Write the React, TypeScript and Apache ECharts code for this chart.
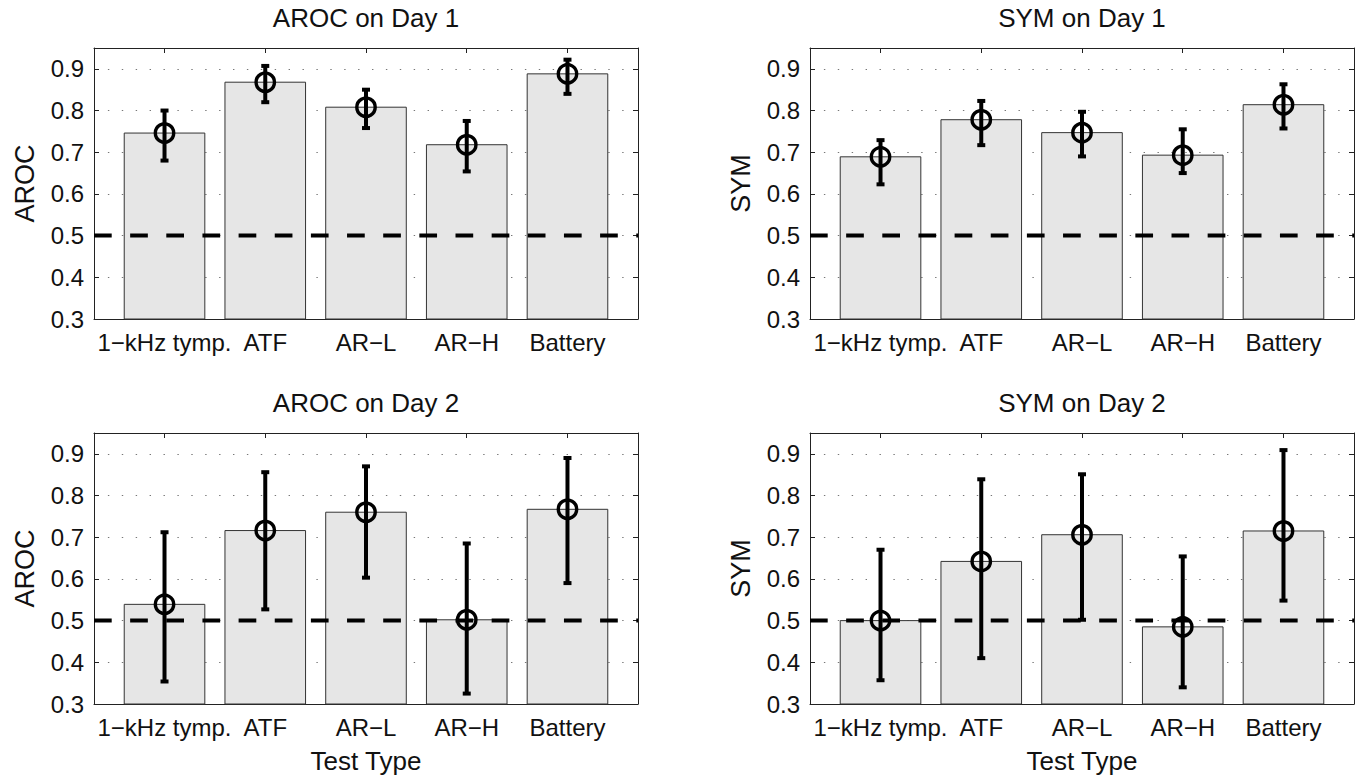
import React, { useEffect, useRef } from 'react';
import * as echarts from 'echarts';

// ---------- data ----------
const categories = ['1−kHz tymp.', 'ATF', 'AR−L', 'AR−H', 'Battery'];
const categoryPositions = [1, 2, 3, 4, 5];
const yTicks = [0.3, 0.4, 0.5, 0.6, 0.7, 0.8, 0.9];
const chanceLevel = 0.5;

const arocDay1Mean = [0.746, 0.868, 0.808, 0.718, 0.888];
const arocDay1Lo = [0.68, 0.82, 0.758, 0.654, 0.84];
const arocDay1Hi = [0.8, 0.907, 0.85, 0.775, 0.922];

const symDay1Mean = [0.689, 0.778, 0.747, 0.693, 0.814];
const symDay1Lo = [0.623, 0.717, 0.69, 0.65, 0.757];
const symDay1Hi = [0.729, 0.823, 0.797, 0.755, 0.863];

const arocDay2Mean = [0.539, 0.716, 0.76, 0.502, 0.767];
const arocDay2Lo = [0.354, 0.527, 0.603, 0.325, 0.59];
const arocDay2Hi = [0.712, 0.856, 0.87, 0.685, 0.89];

const symDay2Mean = [0.5, 0.642, 0.706, 0.485, 0.715];
const symDay2Lo = [0.357, 0.41, 0.502, 0.34, 0.548];
const symDay2Hi = [0.67, 0.839, 0.851, 0.654, 0.909];

const panelTitles = ['AROC on Day 1', 'SYM on Day 1', 'AROC on Day 2', 'SYM on Day 2'];
const panelYNames = ['AROC', 'SYM', 'AROC', 'SYM'];
const panelXNames = ['', '', 'Test Type', 'Test Type'];
const panelMeans = [arocDay1Mean, symDay1Mean, arocDay2Mean, symDay2Mean];
const panelLos = [arocDay1Lo, symDay1Lo, arocDay2Lo, symDay2Lo];
const panelHis = [arocDay1Hi, symDay1Hi, arocDay2Hi, symDay2Hi];

// axis limits
const X_MIN = 0.3;
const X_MAX = 5.7;
const Y_MIN = 0.3;
const Y_MAX = 0.95;
const Y_STEP = 0.1;
const BAR_W = 0.8;

// ---------- layout / style ----------
const gridLefts = [94, 810, 94, 810];
const gridTops = [48, 48, 433, 433];
const GRID_W = 544;
const GRID_H = 271;
const FONT = "'Liberation Sans', Arial, Helvetica, sans-serif";
const TEXT = '#111';
const AXIS = '#222';

function buildOption() {
  const grid: any[] = [];
  const xAxis: any[] = [];
  const yAxis: any[] = [];
  const series: any[] = [];

  panelTitles.forEach((title, i) => {
    grid.push({ left: gridLefts[i], top: gridTops[i], width: GRID_W, height: GRID_H });

    const lineStyle = { color: AXIS, width: 1 };
    xAxis.push({
      gridIndex: i,
      type: 'value',
      min: X_MIN,
      max: X_MAX,
      position: 'bottom',
      axisLine: { show: true, onZero: false, lineStyle },
      axisTick: { show: true, inside: true, length: 5, customValues: categoryPositions, lineStyle },
      axisLabel: {
        show: true,
        customValues: categoryPositions,
        formatter: (v: number) => categories[Math.round(v) - 1] ?? '',
        fontSize: 24,
        fontFamily: FONT,
        color: TEXT,
        margin: 11,
      },
      splitLine: { show: false },
      name: panelXNames[i],
      nameLocation: 'middle',
      nameGap: 44,
      nameTextStyle: { fontSize: 26, fontFamily: FONT, color: TEXT },
    });
    xAxis.push({
      gridIndex: i,
      type: 'value',
      min: X_MIN,
      max: X_MAX,
      position: 'top',
      axisLine: { show: true, onZero: false, lineStyle },
      axisTick: { show: true, inside: true, length: 5, customValues: categoryPositions, lineStyle },
      axisLabel: { show: false },
      splitLine: { show: false },
      name: title,
      nameLocation: 'middle',
      nameGap: 17,
      nameTextStyle: { fontSize: 26, fontFamily: FONT, color: TEXT },
    });

    yAxis.push({
      gridIndex: i,
      type: 'value',
      min: Y_MIN,
      max: Y_MAX,
      interval: Y_STEP,
      position: 'left',
      axisLine: { show: true, onZero: false, lineStyle },
      axisTick: { show: true, inside: true, length: 5, customValues: yTicks, lineStyle },
      axisLabel: {
        show: true,
        customValues: yTicks,
        formatter: (v: number) => v.toFixed(1),
        fontSize: 24,
        fontFamily: FONT,
        color: TEXT,
        margin: 10,
      },
      splitLine: { show: true, lineStyle: { color: '#777', width: 1.2, type: [1.4, 12.5] } },
      name: panelYNames[i],
      nameLocation: 'middle',
      nameGap: 56,
      nameTextStyle: { fontSize: 27, fontFamily: FONT, color: TEXT },
    });
    yAxis.push({
      gridIndex: i,
      type: 'value',
      min: Y_MIN,
      max: Y_MAX,
      interval: Y_STEP,
      position: 'right',
      axisLine: { show: true, onZero: false, lineStyle },
      axisTick: { show: true, inside: true, length: 5, customValues: yTicks, lineStyle },
      axisLabel: { show: false },
      splitLine: { show: false },
    });

    const xi = i * 2;
    const yi = i * 2;
    const means = panelMeans[i];
    const los = panelLos[i];
    const his = panelHis[i];

    series.push({
      type: 'custom',
      xAxisIndex: xi,
      yAxisIndex: yi,
      z: 2,
      data: categoryPositions.map((x, k) => [x, means[k]]),
      renderItem: (params: any, api: any) => {
        const x = api.value(0);
        const v = api.value(1);
        const p0 = api.coord([x - BAR_W / 2, v]);
        const p1 = api.coord([x + BAR_W / 2, Y_MIN]);
        return {
          type: 'rect',
          shape: { x: p0[0], y: p0[1], width: p1[0] - p0[0], height: p1[1] - p0[1] },
          style: { fill: '#e6e6e6', stroke: '#333', lineWidth: 1 },
        };
      },
    });

    series.push({
      type: 'line',
      xAxisIndex: xi,
      yAxisIndex: yi,
      z: 3,
      symbol: 'none',
      silent: true,
      data: [
        [X_MIN, chanceLevel],
        [X_MAX, chanceLevel],
      ],
      lineStyle: { color: '#000', width: 4, type: [17.7, 18.45], cap: 'butt' },
    });

    series.push({
      type: 'custom',
      xAxisIndex: xi,
      yAxisIndex: yi,
      z: 4,
      data: categoryPositions.map((x, k) => [x, means[k], los[k], his[k]]),
      renderItem: (params: any, api: any) => {
        const x = api.value(0);
        const pm = api.coord([x, api.value(1)]);
        const pl = api.coord([x, api.value(2)]);
        const ph = api.coord([x, api.value(3)]);
        const capW = 8;
        const capH = 4;
        return {
          type: 'group',
          children: [
            {
              type: 'line',
              shape: { x1: pl[0], y1: pl[1], x2: ph[0], y2: ph[1] },
              style: { stroke: '#000', lineWidth: 4 },
            },
            {
              type: 'rect',
              shape: { x: pl[0] - capW / 2, y: pl[1] - capH / 2, width: capW, height: capH },
              style: { fill: '#000' },
            },
            {
              type: 'rect',
              shape: { x: ph[0] - capW / 2, y: ph[1] - capH / 2, width: capW, height: capH },
              style: { fill: '#000' },
            },
            {
              type: 'circle',
              shape: { cx: pm[0], cy: pm[1], r: 9.2 },
              style: { fill: 'none', stroke: '#000', lineWidth: 3.4 },
            },
          ],
        };
      },
    });
  });

  return {
    animation: false,
    backgroundColor: '#ffffff',
    grid,
    xAxis,
    yAxis,
    series,
  };
}

export default function App() {
  const ref = useRef<HTMLDivElement>(null);
  useEffect(() => {
    if (!ref.current) return;
    const chart = echarts.init(ref.current, undefined, { renderer: 'svg' });
    chart.setOption(buildOption() as any);
    return () => chart.dispose();
  }, []);
  return (
    <div
      ref={ref}
      style={{ position: 'fixed', left: 0, top: 0, width: 1362, height: 781, background: '#fff' }}
    />
  );
}
